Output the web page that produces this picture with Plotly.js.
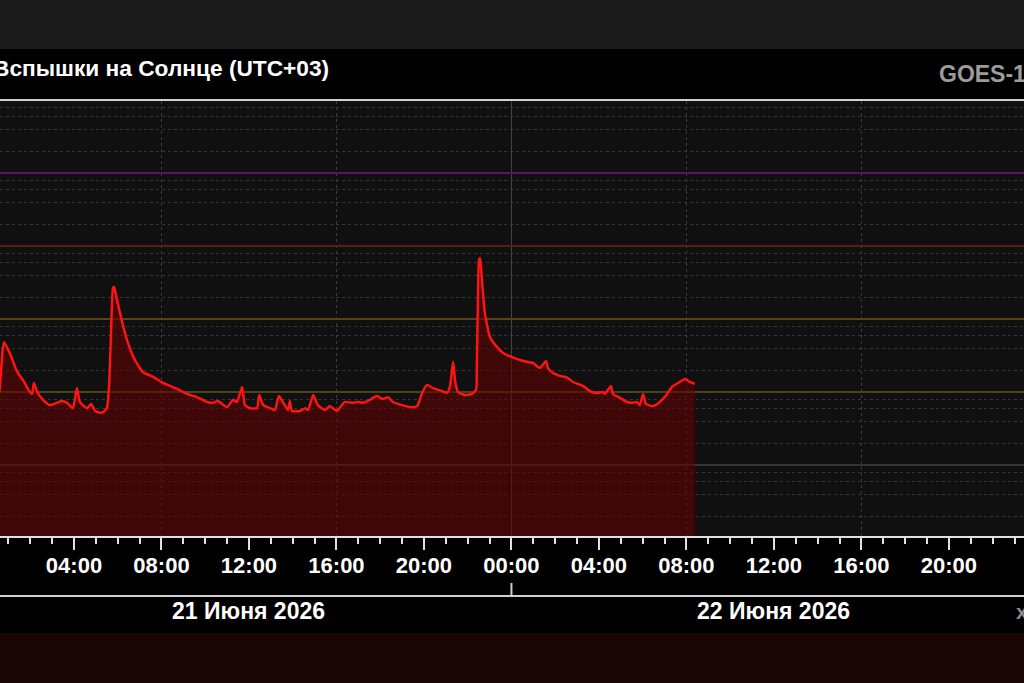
<!DOCTYPE html>
<html>
<head>
<meta charset="utf-8">
<script src="https://cdn.plot.ly/plotly-3.0.1.min.js"></script>
<style>
  html, body { margin:0; padding:0; background:#000; }
  #chart { width:1024px; height:683px; }
</style>
</head>
<body>
<div id="chart"></div>
<script>
// ---- data ----
const times = [
  '2026-06-21 00:30','2026-06-21 00:36','2026-06-21 00:44','2026-06-21 00:48','2026-06-21 01:04','2026-06-21 01:24',
  '2026-06-21 01:40','2026-06-21 01:59','2026-06-21 02:05','2026-06-21 02:10','2026-06-21 02:19','2026-06-21 02:35',
  '2026-06-21 02:54','2026-06-21 03:13','2026-06-21 03:27','2026-06-21 03:41','2026-06-21 03:57','2026-06-21 04:08',
  '2026-06-21 04:16','2026-06-21 04:36','2026-06-21 04:47','2026-06-21 04:58','2026-06-21 05:17','2026-06-21 05:30',
  '2026-06-21 05:36','2026-06-21 05:41','2026-06-21 05:47','2026-06-21 05:50','2026-06-21 05:58','2026-06-21 06:12',
  '2026-06-21 06:28','2026-06-21 06:47','2026-06-21 07:09','2026-06-21 07:37','2026-06-21 08:04','2026-06-21 08:23',
  '2026-06-21 08:43','2026-06-21 09:10','2026-06-21 09:37','2026-06-21 10:05','2026-06-21 10:21','2026-06-21 10:35',
  '2026-06-21 11:00','2026-06-21 11:16','2026-06-21 11:27','2026-06-21 11:41','2026-06-21 11:49','2026-06-21 12:03',
  '2026-06-21 12:22','2026-06-21 12:28','2026-06-21 12:39','2026-06-21 12:58','2026-06-21 13:11','2026-06-21 13:22',
  '2026-06-21 13:33','2026-06-21 13:47','2026-06-21 13:52','2026-06-21 13:58','2026-06-21 14:20','2026-06-21 14:34',
  '2026-06-21 14:42','2026-06-21 14:56','2026-06-21 15:09','2026-06-21 15:28','2026-06-21 15:42','2026-06-21 16:01',
  '2026-06-21 16:23','2026-06-21 16:45','2026-06-21 16:59','2026-06-21 17:13','2026-06-21 17:32','2026-06-21 17:51',
  '2026-06-21 18:07','2026-06-21 18:21','2026-06-21 18:35','2026-06-21 19:00','2026-06-21 19:22','2026-06-21 19:41',
  '2026-06-21 19:55','2026-06-21 20:08','2026-06-21 20:25','2026-06-21 20:49','2026-06-21 21:03','2026-06-21 21:11',
  '2026-06-21 21:20','2026-06-21 21:25','2026-06-21 21:33','2026-06-21 21:52','2026-06-21 22:12','2026-06-21 22:23',
  '2026-06-21 22:25','2026-06-21 22:28','2026-06-21 22:31','2026-06-21 22:34','2026-06-21 22:39','2026-06-21 22:47',
  '2026-06-21 23:01','2026-06-21 23:20','2026-06-21 23:37',
  '2026-06-22 00:00','2026-06-22 00:23','2026-06-22 00:45','2026-06-22 00:59','2026-06-22 01:18','2026-06-22 01:35',
  '2026-06-22 01:40','2026-06-22 01:54','2026-06-22 02:13','2026-06-22 02:32','2026-06-22 02:49','2026-06-22 03:16',
  '2026-06-22 03:35','2026-06-22 03:55','2026-06-22 04:11','2026-06-22 04:16','2026-06-22 04:33','2026-06-22 04:38',
  '2026-06-22 04:58','2026-06-22 05:17','2026-06-22 05:33','2026-06-22 05:44','2026-06-22 05:52','2026-06-22 06:01',
  '2026-06-22 06:09','2026-06-22 06:28','2026-06-22 06:47','2026-06-22 07:07','2026-06-22 07:20','2026-06-22 07:37',
  '2026-06-22 07:56','2026-06-22 08:10','2026-06-22 08:23'
];
const flux = [
  8.0e-8, 1.1e-7, 3.6e-7, 4.8e-7, 3.4e-7, 1.9e-7,
  1.46e-7, 1.0e-7, 9.4e-8, 1.33e-7, 1.0e-7, 7.8e-8,
  6.6e-8, 7.1e-8, 7.5e-8, 7.1e-8, 6.0e-8, 1.13e-7,
  7.3e-8, 6.0e-8, 6.85e-8, 5.5e-8, 5.2e-8, 6.0e-8,
  1.17e-7, 5.2e-7, 2.66e-6, 2.74e-6, 1.82e-6, 9.1e-7,
  4.7e-7, 2.74e-7, 1.88e-7, 1.61e-7, 1.33e-7, 1.21e-7,
  1.1e-7, 9.4e-8, 8.5e-8, 7.3e-8, 7.1e-8, 7.5e-8,
  6.2e-8, 7.8e-8, 7.3e-8, 1.17e-7, 6.6e-8, 6.0e-8,
  6.0e-8, 9.1e-8, 6.6e-8, 6.0e-8, 5.65e-8, 8.8e-8,
  7.3e-8, 5.65e-8, 7.5e-8, 5.5e-8, 5.5e-8, 6.0e-8,
  5.65e-8, 9.1e-8, 6.6e-8, 5.65e-8, 6.4e-8, 5.5e-8,
  7.3e-8, 7.1e-8, 7.3e-8, 7.1e-8, 7.8e-8, 8.8e-8,
  8.0e-8, 8.5e-8, 7.3e-8, 6.6e-8, 6.2e-8, 6.4e-8,
  9.7e-8, 1.25e-7, 1.13e-7, 1.03e-7, 9.7e-8, 1.17e-7,
  2.6e-7, 1.46e-7, 1.0e-7, 9.1e-8, 9.4e-8, 1.07e-7,
  2.2e-7, 1.82e-6, 6.4e-6, 6.85e-6, 3.4e-6, 1.21e-6,
  5.67e-7, 4.14e-7, 3.42e-7,
  3.02e-7, 2.74e-7, 2.58e-7, 2.5e-7, 2.13e-7, 2.66e-7,
  2.13e-7, 1.82e-7, 1.66e-7, 1.58e-7, 1.37e-7, 1.21e-7,
  1.03e-7, 9.7e-8, 1.0e-7, 9.4e-8, 1.21e-7, 9.4e-8,
  8.3e-8, 7.3e-8, 7.1e-8, 7.3e-8, 6.6e-8, 9.4e-8,
  6.85e-8, 6.4e-8, 7.3e-8, 9.4e-8, 1.17e-7, 1.33e-7,
  1.51e-7, 1.37e-7, 1.29e-7
];
// flare class thresholds (X, M, C, B, A)
const classLevels = [1e-4, 1e-5, 1e-6, 1e-7, 1e-8];
const classColors = ['#5e1262', '#5a1c1c', '#5e3f17', '#4d4314', '#363636'];
// minor grid levels (2,4,6,8 of each decade)
const gridMultipliers = [2, 4, 6, 8];
const gridDecades = [1e-9, 1e-8, 1e-7, 1e-6, 1e-5, 1e-4];
// axis window and labels
const xStart = '2026-06-21 00:37';
const xEnd = '2026-06-22 23:26';
const yMinLog = -8.973, yMaxLog = -3.014;
const dayStarts = ['2026-06-22 00:00'];
const dayCenters = ['2026-06-21 12:00', '2026-06-22 12:00'];
const dayLabels = ['21 Июня 2026', '22 Июня 2026'];
const titleText = 'Вспышки на Солнце (UTC+03)';
const sourceText = 'GOES-16';

// ---- build ----
const gridVals = [];
gridDecades.forEach(d => gridMultipliers.forEach(m => gridVals.push(m * d)));

const FONT = 'Liberation Sans, Arial, sans-serif';
const HOUR = 3600000;

const traces = [];
classLevels.forEach((lv, i) => {
  traces.push({
    x: [xStart, xEnd], y: [lv, lv], type: 'scatter', mode: 'lines',
    line: {width: 2, color: classColors[i]}, hoverinfo: 'skip'
  });
});
traces.push({
  x: times, y: flux, type: 'scatter', mode: 'lines',
  line: {width: 0, color: 'rgba(0,0,0,0)', shape: 'spline', smoothing: 0.5},
  fill: 'tozeroy', fillcolor: 'rgba(100,0,0,0.56)',
  hoverinfo: 'skip'
});
traces.push({
  x: times, y: flux, type: 'scatter', mode: 'lines',
  line: {width: 2.5, color: '#ff1414', shape: 'spline', smoothing: 0.5},
  hoverinfo: 'skip'
});
// invisible anchor trace for the 8-hour grid axis
traces.push({x: [xStart], y: [classLevels[4]], xaxis: 'x2', type: 'scatter', mode: 'lines',
  line: {width: 0}, hoverinfo: 'skip'});

// paper coords helpers (plot area: y 101..536 px)
const PT = 101, PB = 536, PH = PB - PT;
const py = px => (PB - px) / PH;

const shapes = [
  {type:'rect', xref:'paper', yref:'paper', x0:0, x1:1, y0:py(49), y1:py(-2), fillcolor:'#1b1b1b', line:{width:0}, layer:'below'},
  {type:'line', xref:'paper', yref:'paper', x0:0, x1:1, y0:py(100), y1:py(100), line:{color:'#d0d0d0', width:2}},
  {type:'line', xref:'paper', yref:'paper', x0:0, x1:1, y0:py(596), y1:py(596), line:{color:'#d0d0d0', width:2}},
  {type:'rect', xref:'paper', yref:'paper', x0:0, x1:1, y0:py(685), y1:py(633), fillcolor:'#180505', line:{width:0}, layer:'below'}
];
dayStarts.forEach(d => {
  shapes.push({type:'line', xref:'x', yref:'paper', x0:d, x1:d, y0:0, y1:1, line:{color:'#4a4a4a', width:1}, layer:'below'});
  shapes.push({type:'line', xref:'x', yref:'paper', x0:d, x1:d, y0:py(583), y1:py(596), line:{color:'#d0d0d0', width:2}});
});

const annotations = [
  {xref:'paper', yref:'paper', x:331/1024, y:py(68), xanchor:'right', yanchor:'middle', showarrow:false,
   text:titleText, font:{family:FONT, size:22.7, color:'#ffffff', weight:'bold'}},
  {xref:'paper', yref:'paper', x:937/1024, y:py(74), xanchor:'left', yanchor:'middle', showarrow:false,
   text:sourceText, font:{family:FONT, size:23, color:'#9c9c9c', weight:'bold'}},
  {xref:'paper', yref:'paper', x:1014/1024, y:py(611), xanchor:'left', yanchor:'middle', showarrow:false,
   text:'x', font:{family:FONT, size:21, color:'#8a8a8a', weight:'bold'}}
];
dayCenters.forEach((c, i) => {
  annotations.push({xref:'x', yref:'paper', x:c, y:py(611), xanchor:'center', yanchor:'middle', showarrow:false,
    text:dayLabels[i], font:{family:FONT, size:23, color:'#ffffff', weight:'bold'}});
});

const layout = {
  width: 1024, height: 683,
  margin: {l:0, r:0, t:PT, b:683-PB, pad:0},
  paper_bgcolor: '#000000', plot_bgcolor: '#101010',
  showlegend: false,
  xaxis: {
    type:'date', range:[xStart, xEnd], tickmode:'linear', tick0:'2026-06-21 00:00', dtick:4*HOUR,
    tickformat:'%H:%M', ticks:'outside', ticklen:12, tickwidth:2, tickcolor:'#e0e0e0',
    showline:true, linecolor:'#e0e0e0', linewidth:2, showgrid:false, zeroline:false,
    tickfont:{family:FONT, size:22, color:'#ffffff', weight:'bold'}, ticklabelstandoff:-3,
    minor:{tickmode:'linear', tick0:'2026-06-21 00:00', dtick:HOUR, ticks:'outside', ticklen:6, tickwidth:2, tickcolor:'#e0e0e0', showgrid:false},
    fixedrange:true
  },
  xaxis2: {
    type:'date', overlaying:'x', anchor:'y', range:[xStart, xEnd], tickmode:'linear', tick0:'2026-06-21 00:00', dtick:8*HOUR,
    showgrid:true, gridcolor:'#3c3c3c', griddash:'dot', gridwidth:1, showticklabels:false, ticks:'',
    showline:false, zeroline:false, fixedrange:true
  },
  yaxis: {
    type:'log', range:[yMinLog, yMaxLog], showticklabels:false, showgrid:false, zeroline:false, ticks:'',
    showline:false, fixedrange:true,
    minor:{tickmode:'array', tickvals:gridVals, showgrid:true, gridcolor:'#353535', griddash:'dot', gridwidth:1, ticks:''}
  },
  shapes: shapes,
  annotations: annotations
};

Plotly.newPlot('chart', traces, layout, {staticPlot:true, displayModeBar:false});
</script>
</body>
</html>
